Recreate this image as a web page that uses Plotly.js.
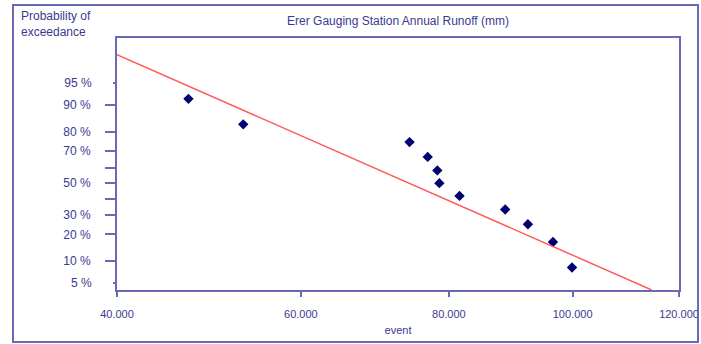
<!DOCTYPE html>
<html>
<head>
<meta charset="utf-8">
<script src="https://cdn.plot.ly/plotly-3.0.1.min.js"></script>
<style>
  html, body { margin: 0; padding: 0; background: #ffffff; }
  #wrap { position: relative; width: 701px; height: 344px; overflow: hidden; }
  #chart { position: absolute; left: 0; top: 0; width: 701px; height: 344px; }
  #frame { position: absolute; left: 12px; top: 4px; width: 683px; height: 335px;
           border: 2px solid #6a6ab4; pointer-events: none; }
</style>
</head>
<body>
<div id="wrap">
  <div id="chart"></div>
  <div id="frame"></div>
</div>
<script>
// ---- data ----
const eventValues = [47.2, 53.2, 74.3, 76.9, 78.3, 78.6, 81.6, 88.7, 92.4, 96.6, 99.9];
const exceedanceProb = [0.917, 0.833, 0.750, 0.667, 0.583, 0.500, 0.417, 0.333, 0.250, 0.167, 0.083];
const fitEvent = [40.0, 114.6];
const fitProb = [0.9826, 0.0396];

const xTickValues = [40, 60, 80, 100, 120];
const xTickLabels = ["40.000", "60.000", "80.000", "100.000", "120.000"];
const yMajorProb = [0.9, 0.8, 0.7, 0.6, 0.5, 0.4, 0.3, 0.2, 0.1];
const yMajorLabels = ["90 %", "80 %", "70 %", "", "50 %", "", "30 %", "20 %", "10 %"];
const yMinorProb = [0.95, 0.05];
const yMinorLabels = ["95 %", "5 %"];

const titleText = "Erer Gauging Station Annual Runoff (mm)";
const yLabelText = "Probability of<br>exceedance";
const xLabelText = "event";

// ---- axis scales (normal probability paper, shifted log event axis) ----
const X_OFFSET = 33;
function norminv(p) {
  const a = [-3.969683028665376e+01, 2.209460984245205e+02, -2.759285104469687e+02, 1.383577518672690e+02, -3.066479806614716e+01, 2.506628277459239e+00];
  const b = [-5.447609879822406e+01, 1.615858368580409e+02, -1.556989798598866e+02, 6.680131188771972e+01, -1.328068155288572e+01];
  const c = [-7.784894002430293e-03, -3.223964580411365e-01, -2.400758277161838e+00, -2.549671185237015e+00, 4.374664141464968e+00, 2.938163982698783e+00];
  const d = [7.784695709041462e-03, 3.224671290700398e-01, 2.445134137142996e+00, 3.754408661907416e+00];
  const plow = 0.02425, phigh = 1 - plow;
  let q, r;
  if (p < plow) {
    q = Math.sqrt(-2 * Math.log(p));
    return (((((c[0]*q+c[1])*q+c[2])*q+c[3])*q+c[4])*q+c[5]) / ((((d[0]*q+d[1])*q+d[2])*q+d[3])*q+1);
  }
  if (p > phigh) {
    q = Math.sqrt(-2 * Math.log(1 - p));
    return -(((((c[0]*q+c[1])*q+c[2])*q+c[3])*q+c[4])*q+c[5]) / ((((d[0]*q+d[1])*q+d[2])*q+d[3])*q+1);
  }
  q = p - 0.5; r = q * q;
  return (((((a[0]*r+a[1])*r+a[2])*r+a[3])*r+a[4])*r+a[5])*q / (((((b[0]*r+b[1])*r+b[2])*r+b[3])*r+b[4])*r+1);
}
const tx = v => v + X_OFFSET;

const axisColor = "#6a6ab4";
const textColor = "#3a3a90";
const font = "Liberation Sans, Arial, sans-serif";
const yRange = [norminv(0.0396), norminv(0.99146)];
const xRange = [Math.log10(tx(40)), Math.log10(tx(120))];

const traces = [
  {
    x: eventValues.map(tx),
    y: exceedanceProb.map(norminv),
    mode: "markers",
    type: "scatter",
    marker: { symbol: "diamond", size: 8, color: "#000070" },
    xaxis: "x", yaxis: "y",
    hoverinfo: "skip"
  },
  {
    x: fitEvent.map(tx),
    y: fitProb.map(norminv),
    mode: "lines",
    type: "scatter",
    line: { color: "#ff5c5c", width: 1.5 },
    xaxis: "x", yaxis: "y2",
    hoverinfo: "skip"
  }
];

const layout = {
  width: 701, height: 344,
  margin: { l: 117, r: 22, t: 38, b: 54 },
  paper_bgcolor: "#ffffff",
  plot_bgcolor: "#ffffff",
  showlegend: false,
  font: { family: font, color: textColor, size: 11 },
  title: {
    text: titleText,
    font: { family: font, size: 12, color: textColor },
    x: 0.5, xref: "paper", xanchor: "center",
    y: 1 - 21 / 344, yref: "container", yanchor: "middle"
  },
  xaxis: {
    type: "log",
    range: xRange,
    tickmode: "array",
    tickvals: xTickValues.map(tx),
    ticktext: xTickLabels,
    ticks: "outside", ticklen: 5, tickwidth: 2, tickcolor: axisColor,
    ticklabelstandoff: 8,
    tickfont: { family: font, size: 11, color: textColor },
    showline: true, linecolor: axisColor, linewidth: 2, mirror: true,
    showgrid: false, zeroline: false,
    title: { text: xLabelText, font: { family: font, size: 11, color: textColor }, standoff: 7 }
  },
  yaxis: {
    range: yRange,
    tickmode: "array",
    tickvals: yMajorProb.map(norminv),
    ticktext: yMajorLabels,
    ticks: "outside", ticklen: 10, tickwidth: 2, tickcolor: axisColor,
    ticklabelstandoff: 12,
    tickfont: { family: font, size: 12, color: textColor },
    showline: true, linecolor: axisColor, linewidth: 2, mirror: true,
    showgrid: false, zeroline: false
  },
  yaxis2: {
    overlaying: "y", side: "left",
    range: yRange,
    tickmode: "array",
    tickvals: yMinorProb.map(norminv),
    ticktext: yMinorLabels,
    ticks: "outside", ticklen: 3, tickwidth: 2, tickcolor: axisColor,
    ticklabelstandoff: 19,
    tickfont: { family: font, size: 12, color: textColor },
    showline: false, showgrid: false, zeroline: false
  },
  annotations: [
    {
      text: yLabelText,
      xref: "paper", yref: "paper",
      x: (19 - 117) / 562, y: (290 - 24.5) / 252,
      xanchor: "left", yanchor: "middle", align: "left",
      showarrow: false,
      font: { family: font, size: 12, color: textColor }
    }
  ]
};

Plotly.newPlot("chart", traces, layout, { displayModeBar: false, staticPlot: true });
</script>
</body>
</html>
